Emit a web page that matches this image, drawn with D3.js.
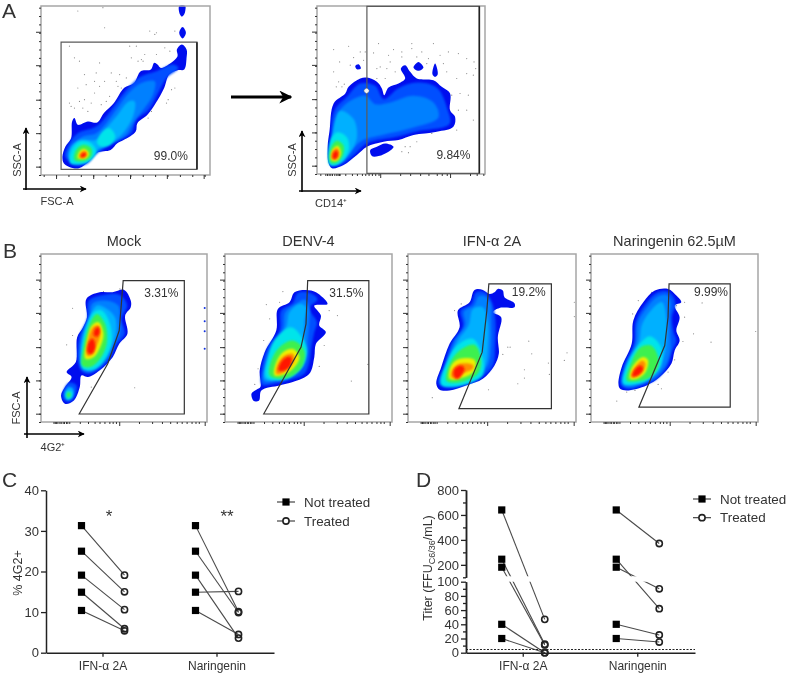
<!DOCTYPE html>
<html>
<head>
<meta charset="utf-8">
<script src="https://cdnjs.cloudflare.com/ajax/libs/d3/7.8.5/d3.min.js"></script>
<style>
  html, body { margin: 0; padding: 0; background: #fff; }
  svg { display: block; filter: blur(0.3px); }
  text { font-family: "Liberation Sans", Arial, sans-serif; fill: #333; }
</style>
</head>
<body>
<svg width="787" height="674"></svg>
<script>
// density contours: [level, [[channel x, channel y], ...]]
// channels run 0-505 from the frame's left / bottom edge
const levelColors = ["#0010ee", "#0050ff", "#0080ff", "#00b0ff", "#00e4ea", "#3cf050", "#eef000", "#ff8c00", "#ff1400"];

const fscContours = [
  [0, [[64,55],[73,85],[90,110],[93,160],[100,170],[110,150],[140,160],[168,157],[188,185],[218,215],[248,260],[278,275],[298,310],[328,315],[338,335],[348,330],[358,320],[388,335],[408,355],[406,375],[421,390],[435,375],[435,350],[428,315],[408,313],[383,300],[368,260],[343,215],[318,180],[288,155],[283,130],[248,105],[228,95],[208,75],[168,67],[143,40],[113,20],[83,25],[68,35]]],
  [0, [[413,505],[431,505],[431,490],[428,480],[421,473],[415,480]]],
  [0, [[413,425],[423,442],[433,425],[423,408]]],
  [1, [[72,55],[85,95],[110,125],[165,145],[195,175],[232,225],[265,265],[300,295],[345,310],[395,330],[410,320],[375,290],[350,245],[322,195],[285,165],[270,125],[235,105],[200,85],[165,62],[135,32],[100,30]]],
  [2, [[80,55],[95,90],[125,115],[165,125],[195,155],[228,200],[262,245],[300,275],[340,280],[335,240],[310,200],[278,160],[255,120],[222,100],[190,85],[165,68],[135,40],[105,36]]],
  [3, [[85,50],[90,85],[120,105],[165,105],[195,140],[225,175],[262,220],[280,220],[275,175],[245,125],[215,100],[185,85],[165,72],[135,42],[105,38]]],
  [4, [[88,35],[90,70],[115,100],[150,95],[165,70],[150,45],[115,32]]],
  [4, [[168,95],[180,125],[205,140],[222,115],[205,90],[180,85]]],
  [5, [[100,45],[105,75],[125,90],[150,80],[150,55],[130,42]]],
  [6, [[110,50],[115,70],[130,78],[143,65],[135,50]]],
  [7, [[115,53],[120,68],[132,72],[138,60],[128,52]]],
  [8, [[118,55],[124,65],[134,66],[132,56],[124,52]]]
];

const cd14Contours = [
  [0, [[35,32],[32,82],[38,132],[50,212],[85,242],[95,262],[130,287],[150,290],[180,277],[195,257],[202,237],[215,260],[245,272],[265,287],[252,317],[265,327],[280,307],[300,287],[350,282],[375,262],[400,242],[400,192],[415,172],[410,142],[360,127],[290,117],[245,102],[200,97],[150,82],[120,57],[80,27],[45,17]]],
  [0, [[160,72],[180,82],[205,92],[230,82],[215,67],[185,54],[165,54]]],
  [0, [[290,320],[305,337],[320,320],[305,310]]],
  [0, [[347,300],[355,332],[363,300],[355,292]]],
  [0, [[115,325],[125,330],[132,317],[120,315]]],
  [1, [[42,28],[42,90],[52,190],[90,232],[130,272],[175,265],[200,225],[245,258],[300,275],[360,260],[392,195],[398,150],[300,128],[240,112],[150,92],[105,52],[70,28]]],
  [2, [[48,32],[50,110],[65,185],[100,220],[145,235],[175,210],[220,215],[290,235],[350,215],[365,170],[290,140],[200,118],[135,100],[95,62],[72,36]]],
  [3, [[45,30],[48,130],[70,190],[110,165],[120,110],[100,65],[70,35]]],
  [4, [[38,28],[40,100],[60,125],[90,110],[95,70],[65,30]]],
  [5, [[40,35],[42,80],[60,100],[80,85],[75,50],[55,32]]],
  [6, [[43,42],[46,72],[62,85],[72,65],[60,40]]],
  [7, [[45,46],[47,68],[60,78],[68,62],[58,44]]],
  [8, [[47,48],[50,65],[60,70],[63,55],[55,45]]]
];

const mockContours = [
  [0, [[61,80],[73,105],[93,135],[78,150],[106,180],[110,255],[128,285],[140,315],[138,370],[178,390],[218,390],[253,397],[273,365],[273,345],[256,320],[263,265],[238,235],[218,195],[178,155],[143,135],[123,140],[118,105],[100,65],[73,55]]],
  [1, [[112,190],[118,260],[140,310],[146,365],[190,382],[240,382],[262,350],[245,310],[255,265],[230,232],[212,195],[178,160],[145,145],[122,155]]],
  [1, [[66,85],[85,118],[108,110],[100,72],[85,60],[70,66]]],
  [2, [[118,190],[125,260],[148,310],[155,355],[195,365],[235,350],[240,310],[240,265],[222,232],[205,195],[175,165],[145,150],[125,160]]],
  [3, [[122,190],[128,260],[150,320],[170,350],[200,340],[225,315],[228,265],[210,220],[185,180],[150,155],[130,165]]],
  [3, [[72,85],[85,105],[98,100],[95,75],[80,68]]],
  [4, [[128,160],[125,215],[135,270],[160,330],[185,335],[208,300],[215,240],[195,190],[165,160]]],
  [4, [[75,78],[80,92],[95,90],[92,72],[80,68]]],
  [5, [[125,170],[128,220],[150,300],[170,325],[195,295],[200,235],[180,190],[150,165]]],
  [5, [[78,80],[82,90],[90,86],[88,76],[82,74]]],
  [6, [[135,190],[138,235],[155,290],[175,300],[190,265],[180,225],[160,195]]],
  [7, [[140,200],[142,240],[158,285],[175,290],[180,260],[165,220],[152,200]]],
  [8, [[142,208],[145,240],[158,250],[165,225],[155,205]]],
  [8, [[160,262],[165,280],[176,285],[178,265],[168,256]]]
];

const denvContours = [
  [0, [[80,85],[95,97],[107,105],[105,155],[120,210],[155,275],[160,340],[195,360],[210,390],[245,397],[275,390],[310,355],[270,350],[290,320],[285,290],[305,270],[275,235],[270,195],[255,145],[205,120],[165,110],[110,95],[103,65],[87,63]]],
  [1, [[112,112],[112,165],[130,225],[165,275],[170,335],[205,358],[220,388],[250,390],[280,370],[255,342],[278,300],[270,270],[262,230],[255,180],[240,145],[190,125],[150,115]]],
  [2, [[118,122],[120,170],[140,230],[175,280],[182,330],[215,355],[240,368],[255,345],[255,300],[250,240],[245,185],[228,155],[185,135],[145,122]]],
  [3, [[120,130],[125,175],[150,235],[185,285],[195,330],[225,355],[245,345],[240,300],[240,240],[238,190],[222,160],[180,140],[140,125]]],
  [4, [[125,135],[130,190],[150,245],[200,285],[235,250],[248,215],[235,170],[200,135],[160,125]]],
  [5, [[135,140],[140,185],[165,225],[205,245],[240,215],[235,170],[205,140],[165,130]]],
  [6, [[150,140],[155,180],[175,210],[205,220],[225,195],[210,165],[185,145]]],
  [7, [[155,145],[160,175],[180,200],[205,205],[210,185],[190,160],[170,145]]],
  [8, [[162,155],[168,178],[185,195],[200,195],[198,170],[180,155]]]
];

const ifnContours = [
  [0, [[85,115],[100,165],[125,235],[155,285],[150,335],[185,360],[200,397],[225,397],[245,385],[260,390],[270,400],[285,395],[290,375],[320,357],[320,345],[275,343],[255,330],[280,315],[270,255],[273,205],[260,170],[225,130],[175,110],[125,95],[95,97]]],
  [1, [[92,115],[108,168],[132,238],[165,288],[158,335],[190,355],[205,390],[230,390],[250,365],[262,315],[262,230],[255,170],[220,135],[172,115],[125,102]]],
  [2, [[98,120],[115,172],[140,242],[172,292],[168,332],[198,350],[212,378],[232,378],[248,355],[250,310],[250,230],[240,170],[212,142],[170,122],[125,110]]],
  [3, [[105,125],[122,180],[150,245],[182,290],[195,340],[225,345],[240,300],[240,225],[232,170],[198,140],[150,122],[118,115]]],
  [4, [[100,112],[115,175],[150,232],[195,250],[225,195],[225,142],[190,118],[135,106]]],
  [5, [[115,125],[125,175],[155,215],[200,232],[220,185],[210,145],[175,125],[135,118]]],
  [6, [[125,130],[130,170],[155,190],[200,187],[200,155],[170,135]]],
  [7, [[130,135],[135,160],[155,175],[195,172],[195,160],[165,145],[150,130]]],
  [8, [[137,140],[140,160],[160,170],[170,160],[160,140],[148,130]]]
];

const narContours = [
  [0, [[83,115],[93,165],[123,235],[128,305],[158,360],[193,395],[233,400],[258,380],[273,360],[253,350],[268,315],[258,275],[268,245],[253,215],[243,175],[208,135],[168,110],[108,95],[88,100]]],
  [1, [[90,112],[100,168],[130,235],[135,302],[165,355],[198,388],[232,392],[250,375],[255,350],[245,315],[250,270],[258,245],[245,212],[232,170],[200,130],[162,112],[110,100]]],
  [2, [[95,115],[105,170],[135,235],[142,300],[172,348],[202,378],[230,382],[242,360],[238,320],[240,265],[240,215],[225,170],[195,135],[160,118],[115,105]]],
  [3, [[100,120],[115,175],[145,240],[155,295],[185,340],[215,360],[228,310],[228,240],[218,190],[190,150],[155,128],[115,115]]],
  [4, [[98,115],[110,175],[150,238],[178,258],[212,225],[210,165],[170,125],[125,112]]],
  [5, [[108,125],[120,175],[150,225],[185,228],[205,175],[180,135],[140,122]]],
  [6, [[118,130],[125,165],[155,195],[172,187],[165,150],[140,130]]],
  [7, [[122,135],[130,160],[155,185],[165,175],[155,150],[135,135]]],
  [8, [[125,137],[132,158],[150,170],[158,160],[145,142]]]
];

// single events outside the density
const fscDots = [[85,215],[115,340],[110,260],[130,225],[135,270],[160,280],[160,245],[175,265],[175,335],[165,305],[180,210],[195,220],[205,235],[225,280],[235,300],[240,260],[255,290],[270,350],[285,385],[290,340],[300,345],[310,360],[325,430],[340,420],[345,425],[265,385],[190,440],[110,490],[185,500],[400,430],[385,370],[370,380],[390,255],[400,260],[375,215],[380,225],[320,170],[330,190],[100,350],[85,385],[230,265],[150,215],[125,200],[140,190],[100,200],[90,205],[115,220],[305,340],[345,360],[210,305],[190,280],[130,300]];
const cd14Dots = [[50,374],[95,384],[130,367],[145,367],[170,364],[185,392],[215,357],[230,374],[255,367],[285,392],[285,377],[315,367],[350,392],[370,357],[395,367],[425,362],[450,347],[472,337],[477,317],[450,302],[470,297],[420,287],[390,307],[380,332],[330,332],[335,347],[300,352],[255,352],[220,337],[190,322],[180,317],[210,317],[235,307],[205,287],[180,287],[110,350],[100,327],[68,337],[50,307],[65,277],[75,262],[58,262],[82,270],[140,342],[405,237],[430,242],[455,237],[450,192],[425,192],[470,162],[420,132],[345,122],[280,82],[265,82],[255,67],[275,64],[300,97]];
const mockDots = [[96,342],[78,232],[96,260],[153,105],[285,103],[190,392],[240,400]];
const mockEdgeDots = [[498,343],[498,303],[498,273],[498,220]];
const denvDots = [[175,392],[125,353],[165,360],[135,310],[117,245],[100,160],[90,113],[340,320],[315,335],[382,123],[432,173],[285,167],[300,230]];
const ifnDots = [[73,73],[160,355],[140,335],[363,243],[300,225],[307,225],[285,203],[372,205],[478,208],[470,185],[422,177],[350,157],[350,132],[425,143],[330,115],[242,97],[500,360],[500,317]];
const narDots = [[78,63],[108,90],[133,95],[143,365],[126,325],[183,390],[283,360],[336,358],[283,315],[258,350],[310,265],[363,240],[278,242],[253,187],[233,150],[213,100],[203,113],[498,272]];

// gates
const fscGate = [[60,17],[466,17],[466,397],[60,397]];
const cd14Gate = [[150,2],[488,2],[488,504],[150,504]];
const mockGate = [[116,24],[203,175],[238,275],[250,425],[436,425],[436,24]];
const denvGate = [[117,24],[230,225],[245,295],[250,425],[435,425],[435,24]];
const ifnGate = [[153,40],[223,210],[237,335],[243,415],[431,415],[431,40]];
const narGate = [[145,45],[223,230],[233,315],[236,415],[421,415],[421,45]];

const holeOutline = [[141,250],[149,258],[157,250],[149,242]];

// flow axis ticks, in channels
const yMajor = [25,125,225,328,428];
const yMinor = d3.range(0, 505, 25);
const fscXMajor = [45,156,266,376,486];
const fscXMinor = d3.range(8, 505, 37);
const cd14XMajor = [190,400];
const cd14XMinor = [10,25,30,35,40,45,52,58,62,66,68,85,105,120,135,145,155,165,175,185,250,280,310,335,360,375,390,460,480,500];
const bXMajor = [238,498];
const bXMinor = [38,42,46,50,56,60,66,70,76,80,86,118,143,163,178,193,208,218,228,298,338,368,393,413,428,443,458,470,480];

const panelTitles = ["Mock", "DENV-4", "IFN-\u03b1 2A", "Naringenin 62.5\u00b5M"];

// panel C
const cCategories = ["IFN-\u03b1 2A", "Naringenin"];
const conditions = ["Not treated", "Treated"];
const cTicks = [0,10,20,30,40];
const cIfnNot = [31.3,25,19.1,14.9,10.4];
const cIfnTreated = [19.1,15,10.6,5.9,5.4];
const cNarNot = [31.3,25,19.1,14.9,10.4];
const cNarTreated = [10.1,9.9,3.6,15.1,4.5];

// panel D
const dLowerTicks = [0,20,40,60,80,100];
const dLowerMinor = [10,30,50,70,90];
const dUpperTicks = [200,400,600,800];
const dUpperMinor = [100,300,500,700];
const dIfnNot = [640,245,181,40,20];
const dIfnTreated = [47,12,11,0,0];
const dNarNot = [640,245,181,40,20];
const dNarTreated = [371,62,90,25,15];
const detectionLimit = 4.5;

const svg = d3.select("svg");
const defs = svg.append("defs");

defs.append("filter").attr("id", "edge").append("feGaussianBlur").attr("stdDeviation", 0.6);
defs.append("filter").attr("id", "soft")
    .attr("x", "-30%").attr("y", "-30%").attr("width", "160%").attr("height", "160%")
  .append("feGaussianBlur").attr("stdDeviation", 1.3);

function addHead(id, size) {
  defs.append("marker")
      .attr("id", id)
      .attr("viewBox", "0 0 10 10")
      .attr("refX", 9).attr("refY", 5)
      .attr("markerWidth", size).attr("markerHeight", size)
      .attr("markerUnits", "userSpaceOnUse")
      .attr("orient", "auto")
    .append("path").attr("d", "M0,0L10,5L0,10L3,5Z").attr("fill", "#000");
}
addHead("head", 7);
addHead("bighead", 13);

function arrow(x1, y1, x2, y2, width, marker) {
  svg.append("line")
      .attr("x1", x1).attr("y1", y1).attr("x2", x2).attr("y2", y2)
      .attr("stroke", "#000").attr("stroke-width", width)
      .attr("marker-end", `url(#${marker || "head"})`);
}

function label(x, y, str, size, anchor, rotate) {
  const t = svg.append("text")
      .attr("font-size", size)
      .attr("text-anchor", anchor || "middle")
      .text(str);
  if (rotate) t.attr("transform", `translate(${x},${y}) rotate(-90)`);
  else t.attr("x", x).attr("y", y);
  return t;
}

function flowPanel(box, contours, dots, gate, gateStroke, xMajor, xMinor, pct) {
  const x = d3.scaleLinear().domain([0, 505]).range([box.x0, box.x1]);
  const y = d3.scaleLinear().domain([0, 505]).range([box.y1, box.y0]);
  const g = svg.append("g");

  g.append("g").selectAll("circle").data(dots).enter().append("circle")
      .attr("cx", d => x(d[0]))
      .attr("cy", d => y(d[1]))
      .attr("r", 0.6)
      .attr("fill", "#8a8a8a");

  const blob = d3.line().x(d => x(d[0])).y(d => y(d[1])).curve(d3.curveCatmullRomClosed.alpha(0.5));
  g.append("g").selectAll("path").data(contours).enter().append("path")
      .attr("d", d => blob(d[1]))
      .attr("fill", d => levelColors[d[0]])
      .attr("filter", d => d[0] === 0 ? "url(#edge)" : "url(#soft)");

  g.append("rect")
      .attr("x", box.x0).attr("y", box.y0)
      .attr("width", box.x1 - box.x0).attr("height", box.y1 - box.y0)
      .attr("fill", "none")
      .attr("stroke", "#a6a6a6")
      .attr("stroke-width", 1.5);

  const gatePath = d3.line().x(d => x(d[0])).y(d => y(d[1]));
  g.append("path")
      .attr("d", gatePath(gate) + "Z")
      .attr("fill", "none")
      .attr("stroke", gateStroke)
      .attr("stroke-width", 1.2);

  const tick = (sel, axis) => {
    sel.call(axis).call(s => s.select(".domain").remove());
    sel.selectAll("line").attr("stroke", "#333");
    sel.selectAll("text").remove();
  };
  g.append("g").attr("transform", `translate(${box.x0},0)`).call(tick, d3.axisLeft(y).tickValues(yMinor).tickSize(2));
  g.append("g").attr("transform", `translate(${box.x0},0)`).call(tick, d3.axisLeft(y).tickValues(yMajor).tickSize(5));
  g.append("g").attr("transform", `translate(0,${box.y1})`).call(tick, d3.axisBottom(x).tickValues(xMinor).tickSize(2));
  g.append("g").attr("transform", `translate(0,${box.y1})`).call(tick, d3.axisBottom(x).tickValues(xMajor).tickSize(4));

  label(x(pct.x), y(pct.y), pct.text, 12);
  return { x, y, g, gatePath };
}

// --- panel A
const fscPanel = flowPanel({x0: 41, x1: 210, y0: 6, y1: 175}, fscContours, fscDots, fscGate, "#5a5a5a", fscXMajor, fscXMinor, {x: 388, y: 44, text: "99.0%"});
const cd14Panel = flowPanel({x0: 317, x1: 485, y0: 6, y1: 174}, cd14Contours, cd14Dots, cd14Gate, "#5a5a5a", cd14XMajor, cd14XMinor, {x: 410, y: 44, text: "9.84%"});

// right edge of both A gates reads darker
[[fscPanel, fscGate], [cd14Panel, cd14Gate]].forEach(([p, gate]) => {
  p.g.append("path").attr("d", p.gatePath(gate.slice(1, 3)))
      .attr("stroke", "#222").attr("stroke-width", 1.6).attr("fill", "none");
});

cd14Panel.g.append("path")
    .attr("d", d3.line().x(d => cd14Panel.x(d[0])).y(d => cd14Panel.y(d[1])).curve(d3.curveCatmullRomClosed)(holeOutline))
    .attr("fill", "#f4f4f4").attr("stroke", "#666").attr("stroke-width", 0.5);

arrow(26, 190, 26, 128, 1.6);
arrow(23, 189, 86, 189, 1.6);
label(21, 160, "SSC-A", 11, "middle", true);
label(57, 205, "FSC-A", 11);

arrow(231, 97, 291, 97, 3, "bighead");

arrow(302, 192, 302, 131, 1.6);
arrow(299, 191, 361, 191, 1.6);
label(296, 160, "SSC-A", 11, "middle", true);
label(331, 207, "CD14\u207a", 11);

// --- panel B
const bBoxes = [
  {x0: 41, x1: 207, y0: 254, y1: 422},
  {x0: 225, x1: 392, y0: 254, y1: 422},
  {x0: 408, x1: 576, y0: 254, y1: 422},
  {x0: 591, x1: 758, y0: 254, y1: 422}
];
const mockPanel = flowPanel(bBoxes[0], mockContours, mockDots, mockGate, "#333", bXMajor, bXMinor, {x: 366, y: 377, text: "3.31%"});
flowPanel(bBoxes[1], denvContours, denvDots, denvGate, "#333", bXMajor, bXMinor, {x: 367, y: 377, text: "31.5%"});
flowPanel(bBoxes[2], ifnContours, ifnDots, ifnGate, "#333", bXMajor, bXMinor, {x: 363, y: 380, text: "19.2%"});
flowPanel(bBoxes[3], narContours, narDots, narGate, "#333", bXMajor, bXMinor, {x: 363, y: 380, text: "9.99%"});

mockPanel.g.append("g").selectAll("circle").data(mockEdgeDots).enter().append("circle")
    .attr("cx", d => mockPanel.x(d[0]))
    .attr("cy", d => mockPanel.y(d[1]))
    .attr("r", 1).attr("fill", "#1030e0");

panelTitles.forEach((t, i) => label((bBoxes[i].x0 + bBoxes[i].x1) / 2, 246, t, 14.5));

arrow(27, 438, 27, 377, 1.6);
arrow(24, 434, 84, 434, 1.6);
label(20, 408, "FSC-A", 11, "middle", true);
label(53, 451, "4G2\u207a", 11);

// panel letters
label(2, 18, "A", 21, "start");
label(3, 258, "B", 21, "start");
label(2, 487, "C", 21, "start");
label(416, 487, "D", 21, "start");

// --- shared pieces of C and D
function pairs(g, x, y, category, before, after, offset) {
  const rows = d3.zip(before, after);
  g.append("g").selectAll("line").data(rows).enter().append("line")
      .attr("x1", x(category) + x.bandwidth() / 2 + offset(conditions[0]))
      .attr("x2", x(category) + x.bandwidth() / 2 + offset(conditions[1]))
      .attr("y1", d => y(d[0]))
      .attr("y2", d => y(d[1]))
      .attr("stroke", "#4a4a4a")
      .attr("stroke-width", 1.1);
}

function pairMarks(g, x, y, category, before, after, offset) {
  const cx = x(category) + x.bandwidth() / 2;
  g.append("g").selectAll("rect").data(before).enter().append("rect")
      .attr("x", cx + offset(conditions[0]) - 3.6)
      .attr("y", d => y(d) - 3.6)
      .attr("width", 7.2).attr("height", 7.2)
      .attr("fill", "#000");
  g.append("g").selectAll("circle").data(after).enter().append("circle")
      .attr("cx", cx + offset(conditions[1]))
      .attr("cy", d => y(d))
      .attr("r", 3.1)
      .attr("fill", "none")
      .attr("stroke", "#222")
      .attr("stroke-width", 1.6);
}

function legend(x0, y0, gap) {
  conditions.forEach((c, i) => {
    const yy = y0 + i * gap;
    svg.append("line").attr("x1", x0).attr("x2", x0 + 18).attr("y1", yy).attr("y2", yy)
        .attr("stroke", "#333").attr("stroke-width", 1.1);
    if (i === 0) {
      svg.append("rect").attr("x", x0 + 5.4).attr("y", yy - 3.6).attr("width", 7.2).attr("height", 7.2).attr("fill", "#000");
    } else {
      svg.append("circle").attr("cx", x0 + 9).attr("cy", yy).attr("r", 3.1)
          .attr("fill", "#fff").attr("stroke", "#222").attr("stroke-width", 1.6);
    }
    label(x0 + 27, yy + 4.5, c, 13.4, "start");
  });
}

function styleAxis(sel, size) {
  sel.selectAll(".domain").attr("stroke", "#222").attr("stroke-width", 1.5);
  sel.selectAll("line").attr("stroke", "#222").attr("stroke-width", 1.3);
  sel.selectAll("text").attr("font-size", size).attr("font-family", '"Liberation Sans", Arial, sans-serif').attr("fill", "#333");
}

const offset = d3.scalePoint().domain(conditions).range([-21.5, 21.5]);

// --- panel C
const cx = d3.scaleBand().domain(cCategories).range([46, 274]);
const cy = d3.scaleLinear().domain([0, 40]).range([652.7, 490.3]);
const cg = svg.append("g");

pairs(cg, cx, cy, cCategories[0], cIfnNot, cIfnTreated, offset);
pairs(cg, cx, cy, cCategories[1], cNarNot, cNarTreated, offset);
pairMarks(cg, cx, cy, cCategories[0], cIfnNot, cIfnTreated, offset);
pairMarks(cg, cx, cy, cCategories[1], cNarNot, cNarTreated, offset);

cg.append("g").attr("transform", "translate(46,0)")
    .call(d3.axisLeft(cy).tickValues(cTicks).tickSize(5).tickPadding(2).tickSizeOuter(0))
    .call(styleAxis, 13);
cg.append("g").attr("transform", "translate(0,652.7)")
    .call(d3.axisBottom(cx).tickSize(4).tickPadding(5).tickSizeOuter(0))
    .call(styleAxis, 12);

label(22, 573, "% 4G2+", 12.5, "middle", true);
label(109, 522, "*", 17);
label(227, 522, "**", 17);
legend(277, 502, 19);

// --- panel D, broken axis
const dx = d3.scaleBand().domain(cCategories).range([466, 695]);
const dLower = d3.scaleLinear().domain([0, 100]).range([652.7, 581.7]);
const dUpper = d3.scaleLinear().domain([100, 800]).range([577.3, 490]);
const dy = v => v > 100 ? dUpper(v) : dLower(v);
const dg = svg.append("g");

pairs(dg, dx, dy, cCategories[0], dIfnNot, dIfnTreated, offset);
pairs(dg, dx, dy, cCategories[1], dNarNot, dNarTreated, offset);

// gap in the lines where the axis is broken
dg.append("rect")
    .attr("x", 470).attr("width", 225)
    .attr("y", dUpper(100) - 1).attr("height", dLower(100) - dUpper(100) + 1)
    .attr("fill", "#fff");

pairMarks(dg, dx, dy, cCategories[0], dIfnNot, dIfnTreated, offset);
pairMarks(dg, dx, dy, cCategories[1], dNarNot, dNarTreated, offset);

dg.append("line")
    .attr("x1", 466).attr("x2", 695)
    .attr("y1", dLower(detectionLimit)).attr("y2", dLower(detectionLimit))
    .attr("stroke", "#222").attr("stroke-width", 1.1).attr("stroke-dasharray", "2,1.5");

dg.append("g").attr("transform", "translate(466,0)")
    .call(d3.axisLeft(dLower).tickValues(dLowerMinor).tickSize(3).tickSizeOuter(0).tickFormat(""))
    .call(styleAxis, 13);
dg.append("g").attr("transform", "translate(466,0)")
    .call(d3.axisLeft(dLower).tickValues(dLowerTicks).tickSize(5).tickPadding(2).tickSizeOuter(0))
    .call(styleAxis, 13);
dg.append("g").attr("transform", "translate(466,0)")
    .call(d3.axisLeft(dUpper).tickValues(dUpperMinor).tickSize(3).tickSizeOuter(0).tickFormat(""))
    .call(styleAxis, 13);
dg.append("g").attr("transform", "translate(466,0)")
    .call(d3.axisLeft(dUpper).tickValues(dUpperTicks).tickSize(5).tickPadding(2).tickSizeOuter(0))
    .call(styleAxis, 13);
dg.append("g").attr("transform", "translate(0,652.7)")
    .call(d3.axisBottom(dx).tickSize(4).tickPadding(5).tickSizeOuter(0))
    .call(styleAxis, 12);

const dTitle = label(432, 568, "", 12.5, "middle", true);
dTitle.append("tspan").text("Titer (FFU");
dTitle.append("tspan").attr("font-size", 9).attr("dy", 3).text("C6/36");
dTitle.append("tspan").attr("dy", -3).text("/mL)");

legend(693, 499, 18.7);
</script>
</body>
</html>
